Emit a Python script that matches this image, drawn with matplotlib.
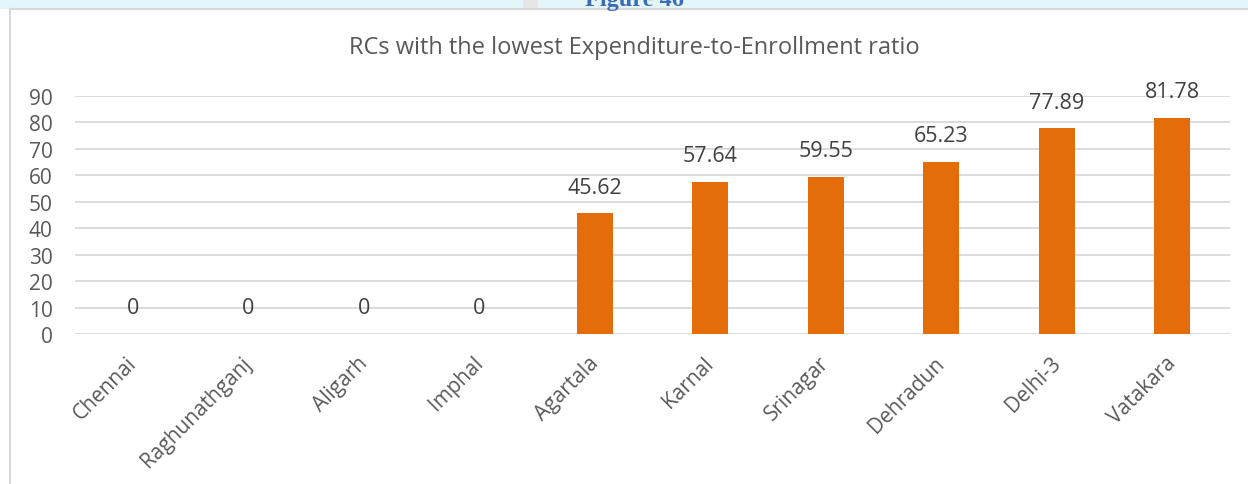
import matplotlib.pyplot as plt
import matplotlib.transforms as mtransforms
from matplotlib.patches import Rectangle

# data
centres = ['Chennai', 'Raghunathganj', 'Aligarh', 'Imphal', 'Agartala',
           'Karnal', 'Srinagar', 'Dehradun', 'Delhi-3', 'Vatakara']
ratio = [0, 0, 0, 0, 45.62, 57.64, 59.55, 65.23, 77.89, 81.78]
yticks = [0, 10, 20, 30, 40, 50, 60, 70, 80, 90]

plt.rcParams['font.family'] = ['Open Sans', 'DejaVu Sans']

fig = plt.figure(figsize=(12.48, 4.85), dpi=100)

# page strip at the top with the clipped caption
fig.patches.append(Rectangle((0, 1 - 10/485), 1, 10/485, transform=fig.transFigure,
                             facecolor='#E4F6F8', edgecolor='none', zorder=0))
fig.patches.append(Rectangle((523/1248, 1 - 10/485), 15/1248, 10/485, transform=fig.transFigure,
                             facecolor='#E6E6E6', edgecolor='none', zorder=0))
fig.text(634/1248, 1 - 6/485, 'Figure 46', ha='center', va='baseline', fontsize=17.5,
         fontweight='bold', color='#3B6DB5', family=['Liberation Serif'])

# chart frame (left + top edges visible)
fig.add_artist(plt.Line2D([10/1248, 10/1248], [0, 1 - 10/485], transform=fig.transFigure,
                          color='#D9D9D9', lw=1.5))
fig.add_artist(plt.Line2D([10/1248, 1], [1 - 10/485, 1 - 10/485], transform=fig.transFigure,
                          color='#D9D9D9', lw=1.5))

ax = fig.add_axes([75/1248, 1 - 335/485, (1230 - 75)/1248, (335 - 97)/485])
x = range(len(centres))
bars = ax.bar(x, ratio, width=0.31, color='#E46C0A', zorder=3)
for b, v in zip(bars, ratio):
    ax.annotate(f'{v:g}', (b.get_x() + b.get_width()/2, v), xytext=(0, 26),
                textcoords='offset pixels', ha='center', va='center',
                fontsize=15.5, color='#404040')

ax.set_xlim(-0.5, len(centres) - 0.5)
ax.set_ylim(0, 90)
ax.set_yticks(yticks)
ax.grid(axis='y', color='#D9D9D9', lw=1.3, zorder=0)
ax.set_xticks(list(x))
ax.set_xticklabels(centres, rotation=45, ha='right', rotation_mode='anchor')
ax.tick_params(length=0, labelsize=15, labelcolor='#595959')
ax.tick_params(axis='x', pad=13)
ax.tick_params(axis='y', pad=16)
shift = mtransforms.ScaledTranslation(-7/100, 0, fig.dpi_scale_trans)
for lbl in ax.get_xticklabels():
    lbl.set_transform(lbl.get_transform() + shift)
for s in ax.spines.values():
    s.set_visible(False)

fig.text(634/1248, 1 - 48/485, 'RCs with the lowest Expenditure-to-Enrollment ratio',
         ha='center', va='center', fontsize=17, color='#595959')

fig.savefig('out.png', dpi=100)
